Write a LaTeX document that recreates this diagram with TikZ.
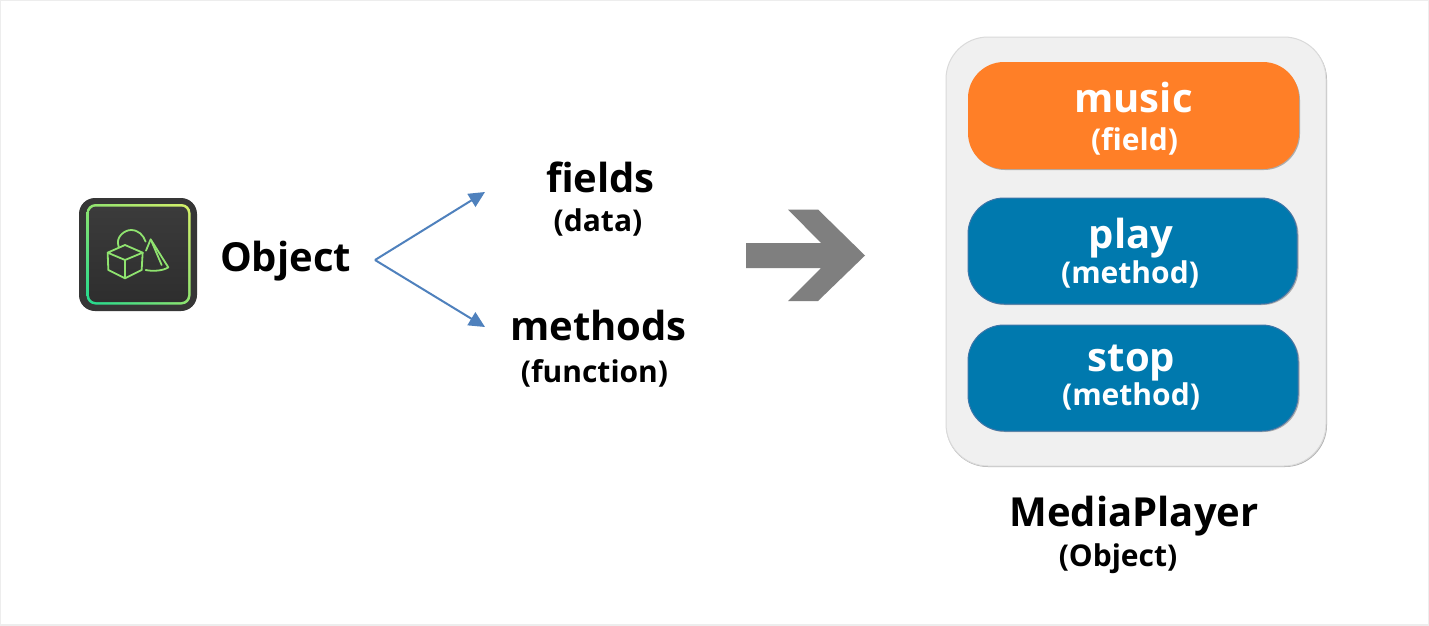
\documentclass[tikz,border=0pt]{standalone}
\usepackage{fontspec}
\setmainfont{Open Sans}
\usetikzlibrary{arrows.meta,shadings}
\definecolor{panelfill}{HTML}{F0F0F0}
\definecolor{paneledge}{HTML}{DADADA}
\definecolor{orangebox}{HTML}{FF7F27}
\definecolor{bluebox}{HTML}{0079AE}
\definecolor{blueedge}{HTML}{3D75A8}
\definecolor{linkblue}{HTML}{4F81BD}
\definecolor{biggray}{HTML}{7F7F7F}
\definecolor{icondark}{HTML}{363636}
\definecolor{icontop}{HTML}{3B3B3B}
\definecolor{iconbot}{HTML}{2E2E2E}
\definecolor{icongreen}{HTML}{8FE36F}
\definecolor{gradA}{HTML}{21D98F}
\definecolor{gradB}{HTML}{D6F06A}
\newcommand{\fs}[1]{\fontsize{#1}{#1}\selectfont\bfseries}
\tikzset{
  x=1pt,y=-1pt,
  lbl/.style={inner sep=0pt,anchor=base,text=black},
  wlbl/.style={inner sep=0pt,anchor=base,text=white},
  big/.style={font=\fs{40}},
  small/.style={font=\fs{30}},
  item/.style={rounded corners=36pt,line width=1pt},
  itemshadow/.style={fill=black!32,rounded corners=36pt},
  link/.style={draw=linkblue,line width=2pt,-{Triangle[length=16pt,width=15pt]}},
  iconline/.style={draw=icongreen,line width=1.8pt,line join=round,line cap=round},
}
\begin{document}
\begin{tikzpicture}
\useasboundingbox (0,0) rectangle (1429,625);
\fill[white] (0,0) rectangle (1429,625);
\draw[draw=black!7,line width=2pt] (0,0) rectangle (1429,625);
% icon
\fill[icondark,rounded corners=16pt] (79,198) rectangle (197,311);
\shade[rounded corners=9pt,lower left=gradA,lower right=icongreen,upper right=gradB,upper left=icongreen]
  (86.5,204) rectangle (190.5,304.5);
\shade[top color=icontop,bottom color=iconbot,rounded corners=7pt] (89,206.5) rectangle (188,302);
\begin{scope}[shift={(60,180)},x=0.3333pt,y=-0.3333pt]
  \draw[iconline] (195,195) -- (248,218) -- (195,240) -- (143,218) -- cycle;
  \draw[iconline] (143,218) -- (145,270) -- (195,295) -- (245,270) -- (248,218);
  \draw[iconline] (195,240) -- (195,295);
  \draw[iconline] (176,200) .. controls (165,170) and (195,150) .. (213,150) .. controls (235,150) and (250,165) .. (257,185);
  \draw[iconline] (258,212) -- (272,178) -- (325,262) .. controls (310,272) and (280,275) .. (257,270);
  \draw[iconline] (275,185) -- (305,255);
\end{scope}
\node[lbl,big] (obj) at (285.5,271) {Object};
% links
\coordinate (fork) at (375,260);
\coordinate (tipa) at (485,192);
\coordinate (tipb) at (485,327);
\draw[link] (fork) -- (tipa);
\draw[link] (fork) -- (tipb);
\node[lbl,big] (fields) at (600.5,192) {fields};
\node[lbl,small] (data) at (598,231) {(data)};
\node[lbl,big] (methods) at (598.5,340) {methods};
\node[lbl,small] (func) at (594.5,382) {(function)};
% big arrow
\fill[biggray] (746,243) -- (821,243) -- (788,209.5) -- (818,209.5) -- (865,255.5) -- (818,301) -- (788,301) -- (821,268) -- (746,268) -- cycle;
% panel
\fill[black!30,rounded corners=42pt] (946,38) rectangle (1327,467);
\draw[draw=paneledge,fill=panelfill,line width=1pt,rounded corners=42pt] (946,37) rectangle (1326,466);
% items
\fill[itemshadow] (969,64) rectangle (1300,170);
\fill[orangebox,rounded corners=36pt] (968,62) rectangle (1299,169);
\fill[itemshadow] (969,199) rectangle (1298.5,305);
\draw[fill=bluebox,item,draw=blueedge] (968,198) rectangle (1297,304);
\fill[itemshadow] (969,326) rectangle (1299.5,432);
\draw[fill=bluebox,item,draw=blueedge] (968,325) rectangle (1298,431);
\node[wlbl,big] (music) at (1133.5,112) {music};
\node[wlbl,small] (field) at (1134.5,150) {(field)};
\node[wlbl,big] (play) at (1131,248) {play};
\node[wlbl,small] (meth1) at (1130,283) {(method)};
\node[wlbl,big] (stop) at (1131.5,371) {stop};
\node[wlbl,small] (meth2) at (1131,405) {(method)};
\node[lbl,big] (mp) at (1134,526) {MediaPlayer};
\node[lbl,small] (objs) at (1118,566) {(Object)};
\end{tikzpicture}
\end{document}
